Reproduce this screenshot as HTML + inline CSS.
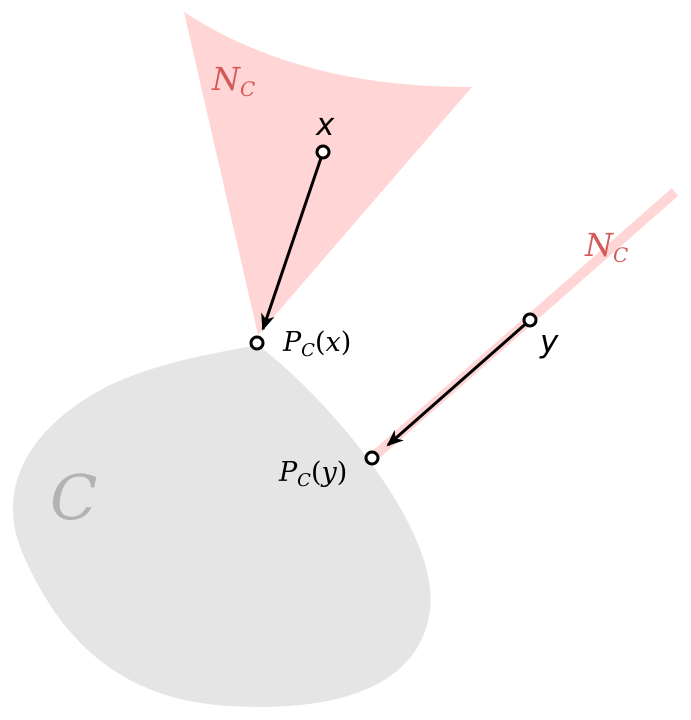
<!DOCTYPE html>
<html><head><meta charset="utf-8"><style>
html,body{margin:0;padding:0;background:#fff;}
svg{display:block;}
</style></head><body>
<svg width="691" height="720" viewBox="0 0 691 720">
<defs>
<marker id="ah" markerWidth="18" markerHeight="14" refX="15" refY="7" orient="auto" markerUnits="userSpaceOnUse">
<path d="M0,0 L17,7 L0,14 L5,7 Z" fill="#000"/>
</marker>
</defs>
<path d="M258,345 C330,400 440,530 430,610 C420,690 330,712 230,706 C120,700 60,640 22,552 C-8,480 40,420 110,385 C160,362 215,353 258,345 Z" fill="#e5e5e5"/>
<path d="M184,12 Q300,88 472,87 L258,335 Z" fill="#ffd5d5"/>
<line x1="372" y1="458" x2="675" y2="192" stroke="#ffd5d5" stroke-width="10"/>
<line x1="323" y1="152" x2="263" y2="329" stroke="#000" stroke-width="3" marker-end="url(#ah)"/>
<line x1="530" y1="320" x2="388" y2="445" stroke="#000" stroke-width="3" marker-end="url(#ah)"/>
<g fill="#fff" stroke="#000" stroke-width="3">
<circle cx="323" cy="152" r="6"/>
<circle cx="257" cy="343" r="6"/>
<circle cx="530" cy="320" r="6"/>
<circle cx="372" cy="458" r="6"/>
</g>
<text x="212" y="90" font-family="DejaVu Serif, serif" font-style="italic" font-size="32" fill="#d45a5a">N<tspan font-size="20" dy="6">C</tspan></text>
<text x="585" y="256" font-family="DejaVu Serif, serif" font-style="italic" font-size="32" fill="#d45a5a">N<tspan font-size="20" dy="6">C</tspan></text>
<text x="316" y="135" font-family="DejaVu Sans, sans-serif" font-style="italic" font-size="31" fill="#000">x</text>
<text x="540" y="352" font-family="DejaVu Sans, sans-serif" font-style="italic" font-size="31" fill="#000">y</text>
<text x="283" y="351" font-family="DejaVu Serif, serif" font-size="27" fill="#000"><tspan font-style="italic">P</tspan><tspan font-style="italic" font-size="18" dy="5">C</tspan><tspan dy="-5">(</tspan><tspan font-style="italic">x</tspan><tspan>)</tspan></text>
<text x="279" y="481" font-family="DejaVu Serif, serif" font-size="27" fill="#000"><tspan font-style="italic">P</tspan><tspan font-style="italic" font-size="18" dy="5">C</tspan><tspan dy="-5">(</tspan><tspan font-style="italic">y</tspan><tspan>)</tspan></text>
<text x="50" y="519" font-family="DejaVu Serif, serif" font-style="italic" font-size="62" fill="#b3b3b3">C</text>
</svg>
</body></html>
